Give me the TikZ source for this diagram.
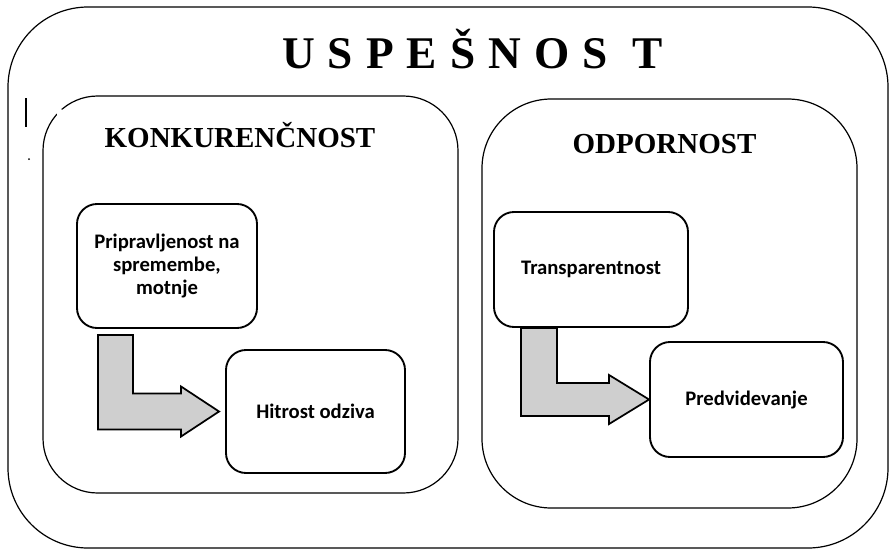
\documentclass[tikz,border=0pt]{standalone}
\usepackage{fontspec}
\setmainfont{Liberation Serif}
\newfontfamily\calibri{Carlito}
\usepackage{tikz}
\usetikzlibrary{positioning}
\usetikzlibrary{calc}

\begin{document}
\begin{tikzpicture}[x=0.75pt, y=-0.75pt,
  frame/.style={draw, line width=0.9pt, rounded corners=#1},
  heading/.style={font=\bfseries\fontsize{21.75pt}{26pt}\selectfont, inner sep=0pt, anchor=base},
  cell/.style={draw, line width=1.4pt, rounded corners=15pt, align=center, inner sep=0pt,
    font=\calibri\bfseries\fontsize{15.5pt}{17pt}\selectfont},
  bent/.style={draw, line width=1.3pt, fill=black!19, line join=miter}]
  \useasboundingbox (0,0) rectangle (889,550);
  % frames %
  \node[frame=60pt, minimum width=660pt, minimum height=405.75pt] (uspe) at (448,277.5) {};
  \node[frame=41pt, minimum width=311.25pt, minimum height=297.75pt] (konk) at (250.5,294.5) {};
  \node[frame=52pt, minimum width=281.25pt, minimum height=306.75pt] (odpo) at (669.5,303.5) {};
  \fill[white] (60.5,113) circle (4);
  \draw[line width=1pt] (26,98) -- (26,127);
  \fill (29,159) circle (1);
  % titles %
  \node[heading, font=\bfseries\fontsize{34pt}{40pt}\selectfont] (uspetitle) at (472.5,68)
    {U\hspace{9.75pt}S\hspace{9.75pt}P\hspace{9.75pt}E\hspace{9.75pt}Š\hspace{9.75pt}N\hspace{9.75pt}O\hspace{9.75pt}S\hspace{18.75pt}T};
  \node[heading] (konktitle) at (240,147) {KONKURENČNOST};
  \node[heading] (odpotitle) at (664.5,153) {ODPORNOST};
  % nodes %
  \node[cell, minimum width=135pt, minimum height=93pt] (prip) at (167,266) {Pripravljenost na\\spremembe,\\motnje};
  \node[cell, minimum width=134.25pt, minimum height=92.25pt] (hitr) at (315.5,411.5) {Hitrost odziva};
  \node[cell, minimum width=145.5pt, minimum height=86.25pt] (tran) at (591,269.5) {Transparentnost};
  \node[cell, minimum width=144.75pt, minimum height=86.25pt] (pred) at (746.5,399.5) {Predvidevanje};
  % edges %
  \coordinate (k1) at ($(prip.south west)+(22,6)$);
  \coordinate (k2) at ($(hitr.west)+(-6,0)$);
  \draw[bent] (k1) -- ++(35,0) |- ($(k2)+(-38,-18)$) -- ++(0,-7) -- (k2) -- ++(-38,25) -- ++(0,-7) -| (k1) -- cycle;

  \coordinate (o1) at ($(tran.south west)+(28,0)$);
  \coordinate (o2) at (pred.west);
  \draw[bent] (o1) -- ++(36,0) |- ($(o2)+(-40,-16.5)$) -- ++(0,-8) -- (o2) -- ++(-40,24.5) -- ++(0,-8) -| (o1) -- cycle;
\end{tikzpicture}
\end{document}
